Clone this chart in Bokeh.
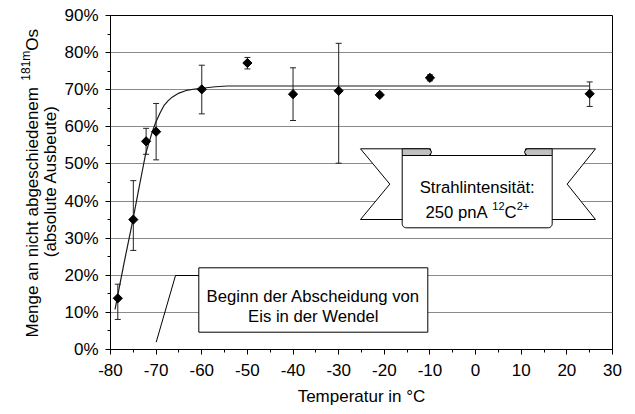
import math
from bokeh.plotting import figure
from bokeh.layouts import row
from bokeh.models import Range1d, SingleIntervalTicker, PrintfTickFormatter, Label
from bokeh.core.properties import value
from bokeh.embed import file_html
from bokeh.resources import INLINE

# ---------------- data ----------------
temperature = [-78.4, -75.0, -72.2, -70.0, -60.0, -50.0, -40.0, -30.0, -21.0, -10.0, 25.0]
yield_pct = [13.8, 35.0, 56.1, 58.7, 70.1, 77.2, 68.8, 69.7, 68.6, 73.2, 68.9]
err_low = [8.1, 26.7, 52.6, 51.1, 63.5, 75.6, 61.7, 50.2, 68.1, 72.4, 65.5]
err_high = [17.6, 45.5, 59.6, 66.3, 76.6, 78.7, 75.9, 82.5, 69.1, 74.0, 72.1]

fit_temp = [-79.0, -78.0, -77.0, -76.0, -75.0, -74.0, -73.0, -72.3, -71.5, -70.8, -70.1,
            -69.2, -68.3, -67.4, -66.5, -65.0, -63.4, -61.5, -60.0, -57.0, -54.4, -52.0, 25.0]
fit_pct = [10.8, 17.2, 23.5, 29.5, 35.5, 42.0, 48.3, 52.7, 56.0, 58.8, 61.2,
           63.6, 65.7, 67.0, 68.0, 69.1, 69.8, 70.2, 70.4, 70.8, 71.0, 71.0, 71.0]

x_label = "Temperatur in °C"
y_label_1 = "Menge an nicht abgeschiedenem"
y_label_sup = "181m"
y_label_end = "Os"
y_label_2 = "(absolute Ausbeute)"
callout_lines = ["Beginn der Abscheidung von", "Eis in der Wendel"]
banner_line1 = "Strahlintensität:"

FONT = "Liberation Sans"
W, H = 635, 414
LEFT_W = 60  # strip holding the y-axis title (page x 0..60)
FRAME_L, FRAME_R, FRAME_T, FRAME_B = 110, 612, 15, 349

# ---------------- main figure ----------------
p = figure(width=W - LEFT_W, height=H, output_backend="svg", toolbar_location=None,
           x_range=Range1d(-80, 30), y_range=Range1d(0, 90),
           min_border_left=FRAME_L - LEFT_W, min_border_right=W - FRAME_R,
           min_border_top=FRAME_T, min_border_bottom=H - FRAME_B)
p.background_fill_color = "white"
p.border_fill_color = "white"
p.outline_line_color = "black"
p.outline_line_width = 1

p.xaxis.ticker = SingleIntervalTicker(interval=10, num_minor_ticks=2)
p.yaxis.ticker = SingleIntervalTicker(interval=10, num_minor_ticks=2)
p.xaxis.formatter = PrintfTickFormatter(format="%d")
p.yaxis.formatter = PrintfTickFormatter(format="%d%%")
for ax in (p.xaxis, p.yaxis):
    ax.axis_line_color = "black"
    ax.major_tick_line_color = "black"
    ax.minor_tick_line_color = "black"
    ax.major_tick_out = 5
    ax.major_tick_in = 0
    ax.minor_tick_out = 3
    ax.minor_tick_in = 0
    ax.major_label_text_font = FONT
    ax.major_label_text_font_size = "17px"
    ax.major_label_text_color = "black"
p.xaxis.major_label_standoff = 9
p.yaxis.major_label_standoff = 7
p.xaxis.axis_label = x_label
p.xaxis.axis_label_text_font = FONT
p.xaxis.axis_label_text_font_size = "17px"
p.xaxis.axis_label_text_font_style = "normal"
p.xaxis.axis_label_text_color = "black"
p.xaxis.axis_label_standoff = 8
p.xgrid.visible = False
p.ygrid.grid_line_color = "#8a8a8a"
p.ygrid.grid_line_width = 1

# page pixel -> data helpers for annotation geometry
def dx(px):
    return -80 + (px - FRAME_L) * 110 / (FRAME_R - FRAME_L)

def dy(py):
    return (FRAME_B - py) * 90 / (FRAME_B - FRAME_T)

def patch_px(pts, fill, line="black"):
    p.patch([dx(a) for a, b in pts], [dy(b) for a, b in pts],
            fill_color=fill, line_color=line, line_width=1)

# ---------------- banner ----------------
patch_px([(360, 148.3), (430, 148.3), (430, 219), (360, 219), (389.3, 183.6)], "white")
patch_px([(595, 148.3), (525, 148.3), (525, 219), (595, 219), (566.7, 183.6)], "white")

r = 4
panel = [(401.7, 155), (551.7, 155)]
for k in range(0, 7):
    a = math.pi / 2 * k / 6
    panel.append((551.7 - r + r * math.cos(a), 227.3 - r + r * math.sin(a)))
for k in range(0, 7):
    a = math.pi / 2 + math.pi / 2 * k / 6
    panel.append((401.7 + r + r * math.cos(a), 227.3 - r + r * math.sin(a)))
patch_px(panel, "white")

curl_l = [(401.7, 148.3), (428, 148.3), (430, 149.4), (431, 151.6), (430, 153.8), (428, 155), (401.7, 155)]
curl_r = [(551.7, 148.3), (527, 148.3), (525, 149.4), (524, 151.6), (525, 153.8), (527, 155), (551.7, 155)]
patch_px(curl_l, "#c0c0c0")
patch_px(curl_r, "#c0c0c0")

# callout box and leader
patch_px([(198.3, 267.3), (427.3, 267.3), (427.3, 331.7), (198.3, 331.7)], "white")
p.line([dx(155.7), dx(175), dx(198.3)], [dy(341.7), dy(275), dy(275)], line_color="black", line_width=1)

# ---------------- data marks ----------------
p.line(fit_temp, fit_pct, line_color="#1a1a1a", line_width=1.2)
p.segment(x0=temperature, y0=err_low, x1=temperature, y1=err_high, line_color="#222222", line_width=1)
p.scatter(temperature, err_low, marker="dash", size=6, line_color="#222222", line_width=1)
p.scatter(temperature, err_high, marker="dash", size=6, line_color="#222222", line_width=1)
p.scatter(temperature, yield_pct, marker="square", angle=math.pi / 4, size=6.5,
          fill_color="black", line_color="black")

# ---------------- texts inside the frame ----------------
def lab(text, px, py, size="16.7px", align="left", baseline="alphabetic"):
    p.add_layout(Label(x=dx(px), y=dy(py), text=text, text_font=FONT, text_font_size=size,
                       text_color="black", text_align=align, text_baseline=baseline))

lab(callout_lines[0], 312.8, 296, align="center")
lab(callout_lines[1], 312.8, 316, align="center")

lab(banner_line1, 476.7, 187, align="center")
F, S = 16.7, 11.0
x0 = 425.0
lab("250 pnA ", x0, 212.3, size=f"{F}px")
x1 = x0 + 4.003 * F
lab("12", x1, 205, size=f"{S}px")
x2 = x1 + 1.112 * S
lab("C", x2, 212.3, size=f"{F}px")
x3 = x2 + 0.722 * F
lab("2+", x3, 205, size=f"{S}px")

# ---------------- left strip with the y-axis title ----------------
# the row aligns this strip's frame with the main frame (page y 15..349),
# so its ranges are expressed directly in page pixels.
lp = figure(width=LEFT_W, height=H, output_backend="svg", toolbar_location=None,
            x_range=Range1d(0, LEFT_W), y_range=Range1d(FRAME_B, FRAME_T),
            min_border_left=0, min_border_right=0, min_border_top=FRAME_T, min_border_bottom=H - FRAME_B,
            x_axis_location=None, y_axis_location=None)
lp.outline_line_color = None
lp.grid.visible = False
lp.background_fill_color = "white"
lp.border_fill_color = "white"

A = math.pi / 2
start_y = 337.0
sup_y = start_y - 15.108 * 17
os_y = sup_y - 2.501 * 12

def vtext(text, px, py, size, align="left"):
    lp.text(x=[px], y=[py], text=[text], angle=A, text_align=align, text_baseline="alphabetic",
            text_font=value(FONT), text_font_size=value(size), text_color="black")

vtext(y_label_1, 32.3, start_y, "17px")
vtext(y_label_sup, 25.5, sup_y, "12px")
vtext(y_label_end, 32.3, os_y, "17px")
vtext(y_label_2, 49.5, 180.7, "17px", align="center")

layout = row(lp, p)
open("out.html", "w").write(file_html(layout, INLINE))
